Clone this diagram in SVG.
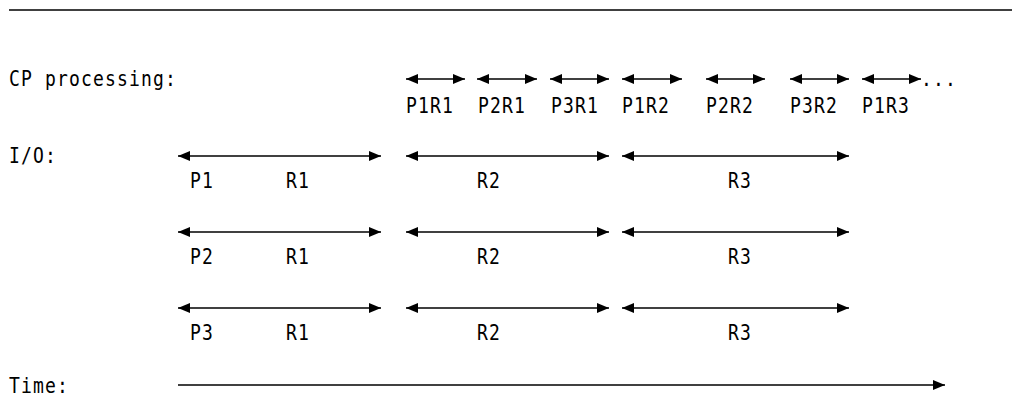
<svg xmlns="http://www.w3.org/2000/svg" width="1012" height="412" viewBox="0 0 1012 412">
<style>
text{font-family:"DejaVu Sans Mono","Liberation Mono",monospace;font-size:20.5px;letter-spacing:1.3px;fill:#000}
.c{stroke:#000;stroke-width:1.6;fill:none;marker-end:url(#ah)}
.d{marker-start:url(#ah)}
</style>
<defs>
<marker id="ah" markerUnits="userSpaceOnUse" markerWidth="13" markerHeight="11" refX="12" refY="5" orient="auto-start-reverse" viewBox="0 0 13 11">
<path d="M0,0 L12,5 L0,10 z" fill="#000"/>
</marker>
</defs>
<rect width="1012" height="412" fill="#fff"/>
<line x1="9" y1="10" x2="1012" y2="10" stroke="#000" stroke-width="1.5"/>
<g id="labels">
<text transform="translate(9 86) scale(.88 1)">CP processing:</text>
<text transform="translate(9 163) scale(.88 1)">I/O:</text>
<text transform="translate(9 393) scale(.88 1)">Time:</text>
</g>
<g id="connectors">
<line class="c d" x1="406" y1="79" x2="465" y2="79"/>
<line class="c d" x1="477" y1="79" x2="537" y2="79"/>
<line class="c d" x1="550" y1="79" x2="609" y2="79"/>
<line class="c d" x1="622" y1="79" x2="682" y2="79"/>
<line class="c d" x1="706" y1="79" x2="765" y2="79"/>
<line class="c d" x1="790" y1="79" x2="849" y2="79"/>
<line class="c d" x1="862" y1="79" x2="921" y2="79"/>
<line class="c d" x1="178" y1="156" x2="381" y2="156"/>
<line class="c d" x1="406" y1="156" x2="609" y2="156"/>
<line class="c d" x1="622" y1="156" x2="849" y2="156"/>
<line class="c d" x1="178" y1="232" x2="381" y2="232"/>
<line class="c d" x1="406" y1="232" x2="609" y2="232"/>
<line class="c d" x1="622" y1="232" x2="849" y2="232"/>
<line class="c d" x1="178" y1="308" x2="381" y2="308"/>
<line class="c d" x1="406" y1="308" x2="609" y2="308"/>
<line class="c d" x1="622" y1="308" x2="849" y2="308"/>
<line class="c" x1="178" y1="385" x2="945" y2="385"/>
</g>
<g id="cp">
<text transform="translate(406 113) scale(.88 1)">P1R1</text>
<text transform="translate(478 113) scale(.88 1)">P2R1</text>
<text transform="translate(551 113) scale(.88 1)">P3R1</text>
<text transform="translate(622 113) scale(.88 1)">P1R2</text>
<text transform="translate(706 113) scale(.88 1)">P2R2</text>
<text transform="translate(790 113) scale(.88 1)">P3R2</text>
<text transform="translate(862 113) scale(.88 1)">P1R3</text>
<text transform="translate(921 86) scale(.88 1)">...</text>
</g>
<g id="io1">
<text transform="translate(190 188) scale(.88 1)">P1</text>
<text transform="translate(286 188) scale(.88 1)">R1</text>
<text transform="translate(477 188) scale(.88 1)">R2</text>
<text transform="translate(728 188) scale(.88 1)">R3</text>
</g>
<g id="io2">
<text transform="translate(190 264) scale(.88 1)">P2</text>
<text transform="translate(286 264) scale(.88 1)">R1</text>
<text transform="translate(477 264) scale(.88 1)">R2</text>
<text transform="translate(728 264) scale(.88 1)">R3</text>
</g>
<g id="io3">
<text transform="translate(190 340) scale(.88 1)">P3</text>
<text transform="translate(286 340) scale(.88 1)">R1</text>
<text transform="translate(477 340) scale(.88 1)">R2</text>
<text transform="translate(728 340) scale(.88 1)">R3</text>
</g>
</svg>
